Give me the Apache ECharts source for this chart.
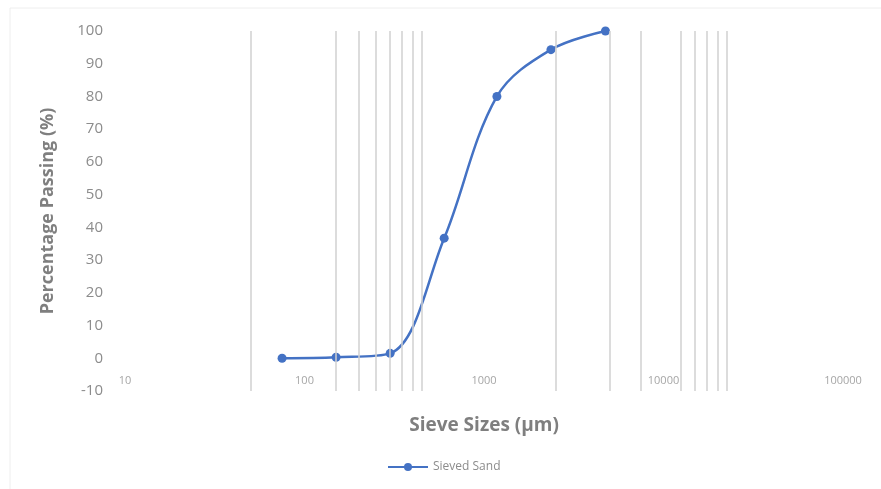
<!DOCTYPE html>
<html>
<head>
<meta charset="utf-8">
<script src="https://cdn.jsdelivr.net/npm/echarts@6/dist/echarts.min.js"></script>
<style>
    html, body { margin: 0; padding: 0; background: #fff; }
    #chart { width: 881px; height: 489px; }
</style>
</head>
<body>
<div id="chart"></div>
<script>
// sieve analysis data (µm / % passing)
const sieveSizes = [75, 150, 300, 600, 1180, 2360, 4750]
const percentPassing = [0, 0.3, 1.5, 36.7, 80, 94.3, 100]
// vertical reference lines drawn in the original
const refLines = [50, 150, 200, 250, 300, 350, 400, 450, 2500, 5000, 7500, 12500, 15000, 17500, 20000, 22500]
const yTicks = { min: -10, max: 100, step: 10 }

const chart = echarts.init(document.getElementById('chart'))
const labelFont = '"Open Sans", "Noto Sans", sans-serif'

const option = {
    animation: false,
    textStyle: { fontFamily: labelFont },
    graphic: [{
        type: 'rect',
        shape: { x: 10, y: 8, width: 900, height: 500 },
        style: { fill: 'none', stroke: '#eeeeee', lineWidth: 1 },
        silent: true
    }],
    grid: {
        left: 125,
        right: 38,
        top: 31,
        bottom: 98
    },
    legend: {
        data: ['Sieved Sand'],
        left: 382,
        top: 456,
        itemWidth: 40,
        itemHeight: 10,
        textStyle: { color: '#8c8c8c', fontSize: 12, fontFamily: labelFont }
    },
    xAxis: {
        type: 'log',
        logBase: 10,
        min: 10,
        max: 100000,
        name: 'Sieve Sizes (µm)',
        nameLocation: 'middle',
        nameGap: 25,
        nameTextStyle: { color: '#7f7f7f', fontSize: 19, fontWeight: 'bold', fontFamily: labelFont },
        axisLine: { show: false },
        axisTick: { show: false },
        splitLine: { show: false },
        minorTick: { show: false },
        axisLabel: {
            inside: true,
            margin: 5,
            color: '#a6a6a6',
            fontSize: 11,
            formatter: v => String(Math.round(v))
        }
    },
    yAxis: {
        type: 'value',
        min: yTicks.min,
        max: yTicks.max,
        interval: yTicks.step,
        name: 'Percentage Passing (%)',
        nameLocation: 'middle',
        nameGap: 68,
        nameTextStyle: { color: '#7f7f7f', fontSize: 18, fontWeight: 'bold', fontFamily: labelFont },
        axisLine: { show: false },
        axisTick: { show: false },
        splitLine: { show: false },
        axisLabel: {
            margin: 22,
            color: '#8c8c8c',
            fontSize: 15
        }
    },
    series: [{
        name: 'refLines',
        type: 'line',
        data: [],
        silent: true,
        z: 1,
        markLine: {
            silent: true,
            symbol: 'none',
            label: { show: false },
            lineStyle: { color: '#d0d0d0', width: 1.5, type: 'solid' },
            data: refLines.map(v => ({ xAxis: v }))
        }
    }, {
        name: 'Sieved Sand',
        type: 'line',
        z: 3,
        smooth: 0.35,
        symbol: 'circle',
        symbolSize: 9,
        data: sieveSizes.map((s, i) => [s, percentPassing[i]]),
        lineStyle: { color: '#4472c4', width: 2.5 },
        itemStyle: { color: '#4472c4' }
    }]
}
chart.setOption(option)
</script>
</body>
</html>
